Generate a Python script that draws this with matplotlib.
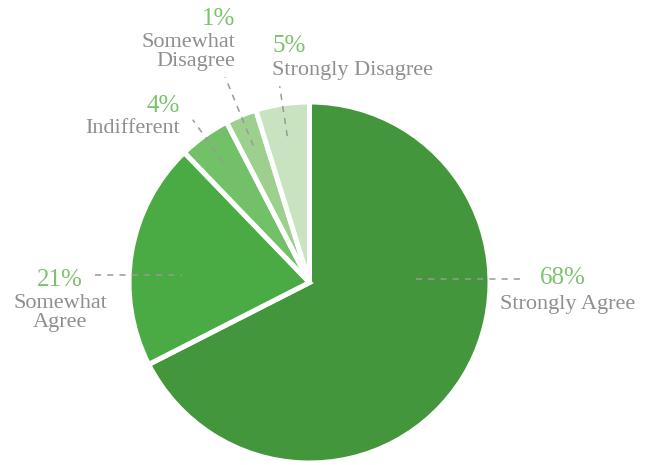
import numpy as np
import matplotlib
matplotlib.use("Agg")
import matplotlib.pyplot as plt

categories = ["Strongly Agree", "Somewhat Agree", "Indifferent",
              "Somewhat Disagree", "Strongly Disagree"]
# slice sizes (labels below are the printed ones)
values = [67.5, 20.3, 4.6, 2.8, 4.8]
pct_labels = ["68%", "21%", "4%", "1%", "5%"]
names = ["Strongly Agree", "Somewhat\nAgree", "Indifferent",
         "Somewhat\nDisagree", "Strongly Disagree"]
colors = ["#43963c", "#4aab45", "#72c068", "#9dd08f", "#c9e3c0"]

W, H = 650, 465
CX, CY, R = 309.5, 282.5, 180.5   # pie centre / radius in pixels


def px(x, y):
    return (x - CX) / R, (CY - y) / R


plt.rcParams["font.family"] = ["Liberation Serif", "DejaVu Serif"]
fig = plt.figure(figsize=(W / 100, H / 100), dpi=100)
ax = fig.add_axes([0, 0, 1, 1])
x0, y0 = px(0, H)
x1, y1 = px(W, 0)

wedges, _ = ax.pie(values, colors=colors, startangle=90, counterclock=False,
                   radius=1, center=(0, 0), frame=True,
                   wedgeprops=dict(edgecolor="white", linewidth=3.6))
ax.set_xlim(x0, x1)
ax.set_ylim(y0, y1)
ax.set_aspect("equal")
ax.axis("off")

green = "#7cc26e"
gray = "#8f8f8f"
dash = dict(color="#999999", lw=1.1, ls=(0, (4, 4)))

# horizontal leaders for the two big slices
for (xa, ya), (xb, yb) in [((416, 279), (525, 279)), ((95, 275), (182, 275))]:
    p, q = px(xa, ya), px(xb, yb)
    ax.plot([p[0], q[0]], [p[1], q[1]], **dash)

# radial leaders for the small slices
outer = {2: 1.11, 3: 1.23, 4: 1.10}
for i, r_out in outer.items():
    w = wedges[i]
    mid = np.deg2rad((w.theta1 + w.theta2) / 2)
    ax.plot([0.82 * np.cos(mid), r_out * np.cos(mid)],
            [0.82 * np.sin(mid), r_out * np.sin(mid)], **dash)

# text: (pct pos, name pos, alignment)
layout = [
    ((563, 278), (568, 305), "center"),
    ((60, 280), (60, 313), "center"),
    ((180, 106), (180, 128), "right"),
    ((235, 19), (235, 52), "right"),
    ((272, 46), (272, 70), "left"),
]
for pct, name, (pp, npos, ha) in zip(pct_labels, names, layout):
    a = px(*pp)
    b = px(*npos)
    ax.text(a[0], a[1], pct, color=green, fontsize=18, ha=ha, va="center")
    ax.text(b[0], b[1], name, color=gray, fontsize=16, ha=ha, va="center",
            multialignment=ha, linespacing=1.0)

fig.savefig("out.png", dpi=100)
